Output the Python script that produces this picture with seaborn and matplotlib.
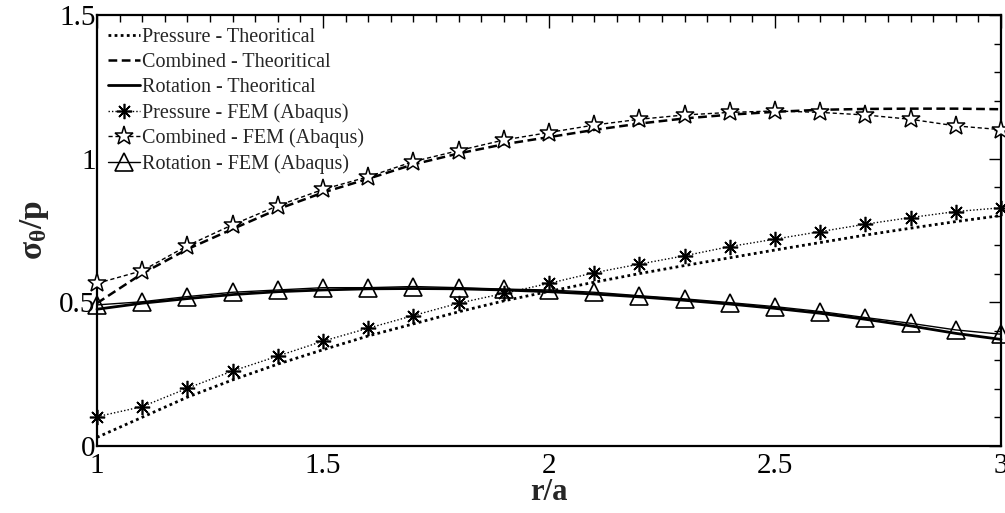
import numpy as np
import pandas as pd
import matplotlib
matplotlib.use("Agg")
import matplotlib.pyplot as plt
import seaborn as sns
from matplotlib.ticker import MultipleLocator, FormatStrFormatter

# ---- data ----
r = [1.0, 1.1, 1.2, 1.3, 1.4, 1.5, 1.6, 1.7, 1.8, 1.9, 2.0,
     2.1, 2.2, 2.3, 2.4, 2.5, 2.6, 2.7, 2.8, 2.9, 3.0]

pressure_theory = [0.030, 0.100, 0.170, 0.230, 0.285, 0.335, 0.383, 0.425, 0.467, 0.505, 0.538,
                   0.570, 0.600, 0.628, 0.655, 0.682, 0.708, 0.734, 0.758, 0.781, 0.802]
combined_theory = [0.497, 0.600, 0.685, 0.755, 0.824, 0.882, 0.930, 0.980, 1.018, 1.050, 1.075,
                   1.100, 1.122, 1.140, 1.153, 1.163, 1.170, 1.173, 1.174, 1.174, 1.172]
rotation_theory = [0.476, 0.497, 0.513, 0.527, 0.537, 0.543, 0.547, 0.548, 0.547, 0.543, 0.537,
                   0.529, 0.519, 0.507, 0.494, 0.479, 0.462, 0.441, 0.418, 0.392, 0.371]

pressure_fem = [0.102, 0.137, 0.201, 0.261, 0.313, 0.365, 0.410, 0.454, 0.497, 0.531, 0.566,
                0.603, 0.633, 0.662, 0.694, 0.720, 0.746, 0.772, 0.795, 0.816, 0.829]
combined_fem = [0.566, 0.610, 0.697, 0.770, 0.836, 0.893, 0.937, 0.990, 1.028, 1.065, 1.091,
                1.117, 1.137, 1.152, 1.161, 1.166, 1.161, 1.152, 1.137, 1.114, 1.101]
rotation_fem = [0.491, 0.502, 0.520, 0.535, 0.543, 0.551, 0.551, 0.555, 0.551, 0.546, 0.543,
                0.535, 0.523, 0.512, 0.499, 0.485, 0.468, 0.447, 0.427, 0.404, 0.389]

labels = ["Pressure - Theoritical", "Combined - Theoritical", "Rotation - Theoritical",
          "Pressure - FEM (Abaqus)", "Combined - FEM (Abaqus)", "Rotation - FEM (Abaqus)"]

x_ticks = [1, 1.5, 2, 2.5, 3]
y_ticks = [0, 0.5, 1, 1.5]

# ---- style ----
sns.set_theme(style="white")
plt.rcParams['font.family'] = ['Liberation Serif', 'DejaVu Serif']
plt.rcParams['mathtext.fontset'] = 'custom'
plt.rcParams['mathtext.rm'] = 'Liberation Serif'
plt.rcParams['mathtext.it'] = 'Liberation Serif:italic'
plt.rcParams['mathtext.bf'] = 'Liberation Serif:bold'

fig = plt.figure(figsize=(10.05, 5.13), dpi=100)
ax = fig.add_axes([0.0965, 0.1306, 0.8995, 0.8402])

series = [
    (pressure_theory, dict(linestyle=(0, (1, 1.2)), linewidth=2.0)),
    (combined_theory, dict(linestyle=(0, (3.5, 1.8)), linewidth=1.8)),
    (rotation_theory, dict(linestyle='-', linewidth=2.0)),
    (pressure_fem, dict(linestyle=(0, (1, 1.5)), linewidth=1.0, marker=(8, 2, 0),
                        markersize=11, markeredgewidth=1.2,
                        markeredgecolor='black', markerfacecolor='black')),
    (combined_fem, dict(linestyle=(0, (3, 2)), linewidth=1.0, marker='*',
                        markersize=14, markerfacecolor='white', markeredgewidth=1.1,
                        markeredgecolor='black')),
    (rotation_fem, dict(linestyle='-', linewidth=1.0, marker='^',
                        markersize=13, markerfacecolor='none', markeredgewidth=1.2,
                        markeredgecolor='black')),
]

for (vals, kw), lab in zip(series, labels):
    df = pd.DataFrame({"r": r, "v": vals})
    sns.lineplot(data=df, x="r", y="v", ax=ax, color='black', estimator=None,
                 label=lab, clip_on=False, zorder=3, **kw)

ax.set_xlim(1, 3)
ax.set_ylim(0, 1.5)
ax.set_xticks(x_ticks)
ax.set_yticks(y_ticks)
ax.xaxis.set_major_formatter(FormatStrFormatter('%g'))
ax.yaxis.set_major_formatter(FormatStrFormatter('%g'))
ax.xaxis.set_minor_locator(MultipleLocator(0.05))
ax.yaxis.set_minor_locator(MultipleLocator(0.1))
ax.tick_params(which='both', direction='in', top=True, right=True, colors='black',
               labelsize=21, pad=4)
ax.tick_params(which='major', length=9, width=1.0)
ax.tick_params(which='minor', length=5, width=1.0)
ax.tick_params(axis='x', pad=5)
ax.tick_params(axis='y', pad=1)
for s in ax.spines.values():
    s.set_color('black')
    s.set_linewidth(1.6)

ax.set_xlabel("r/a", fontsize=22, fontweight='bold', labelpad=-1)
ax.set_ylabel(r"$\mathbf{\sigma_{\theta}/p}$", fontsize=24, labelpad=6)

leg = ax.legend(loc='upper left', frameon=False, fontsize=14.5, handlelength=1.6,
                handletextpad=0.08, labelspacing=0.29, borderaxespad=0.1,
                numpoints=1, bbox_to_anchor=(0.001, 0.993))

fig.savefig("out.png", dpi=100)
